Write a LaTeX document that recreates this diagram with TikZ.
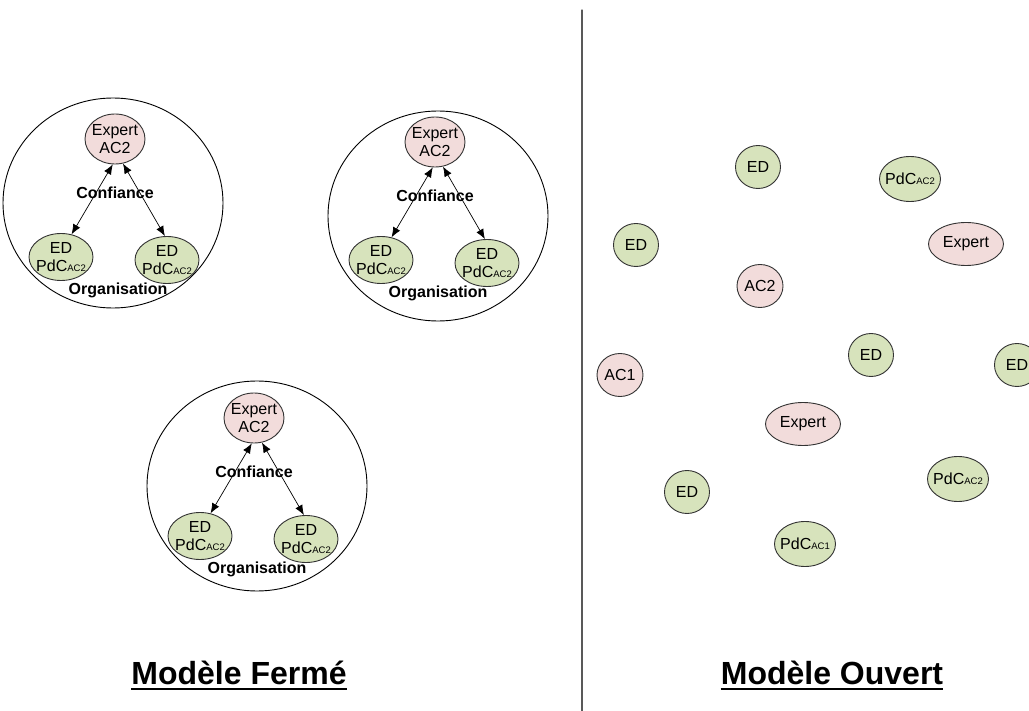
\documentclass[tikz,border=0pt]{standalone}
\usepackage{fontspec}
\setmainfont{Liberation Sans}
\usetikzlibrary{shapes.geometric,arrows.meta}
\definecolor{vertpale}{HTML}{D7E3BC}
\definecolor{rosepale}{HTML}{F2DCDB}
\definecolor{bord}{HTML}{333333}
\newcommand{\pdc}[1]{PdC{\fontsize{9.5}{9.5}\selectfont #1}}
\newcommand{\mot}[1]{\makebox[0pt]{#1}}
\begin{document}
\begin{tikzpicture}[x=1pt, y=-1pt, line join=round, line cap=round,
	bulle/.style={ellipse, draw=bord, line width=0.9pt, inner sep=0pt, align=center, font=\fontsize{16}{18}\selectfont},
	vert/.style={bulle, fill=vertpale},
	rose/.style={bulle, fill=rosepale},
	gras/.style={font=\fontsize{16}{16}\selectfont\bfseries, inner sep=0pt},
	lien/.style={{Latex[length=10pt,width=8pt]}-{Latex[length=10pt,width=8pt]}, line width=0.7pt},
	titre/.style={font=\fontsize{32}{32}\selectfont\bfseries, inner sep=0pt, anchor=base}]
	\useasboundingbox (0,0) rectangle (1029,711);
	\clip (0,0) rectangle (1029,711);
	\draw[line width=1.3pt, black!65] (582,10) -- (582,711);
	
	\foreach \k/\cx/\cy/\ox/\oy in {1/115/205/-2/-2, 2/435/208/3/8, 3/254/484/3/2} {
		\begin{scope}[shift={(\cx,\cy)}]
			\node[ellipse, draw, line width=0.9pt, minimum width=220pt, minimum height=210pt] (org\k) at (\ox,\oy) {};
			\node[rose, minimum width=60pt, minimum height=50pt] (ex\k) at (0,-66) {\mot{Expert}\\\mot{AC2}};
			\node[vert, minimum width=64pt, minimum height=47pt] (gl\k) at (-54,52) {\mot{ED}\\\mot{\pdc{AC2}}};
			\node[vert, minimum width=64pt, minimum height=47pt] (gr\k) at (52,55) {\mot{ED}\\\mot{\pdc{AC2}}};
			\node[gras] (cf\k) at (0,-12) {Confiance};
			\node[gras] (og\k) at (3,85) {Organisation};
			\draw[lien] (ex\k.-95) -- (gl\k.65);
			\draw[lien] (ex\k.-72) -- (gr\k.95);
		\end{scope}
	}
	
	\foreach \nm/\x/\y in {edA/758/167, edB/636/245, edC/871/355, edD/1017/365, edE/687/492}
		\node[vert, minimum width=45pt, minimum height=43pt] (\nm) at (\x,\y) {\mot{ED}};
	\foreach \nm/\x/\y/\ac in {pcA/910/179/AC2, pcB/958/479/AC2, pcC/805/544/AC1}
		\node[vert, minimum width=61pt, minimum height=45pt] (\nm) at (\x,\y) {\mot{\pdc{\ac}}};
	\node[rose, minimum width=46pt, minimum height=43pt] (acB) at (760,286) {\mot{AC2}};
	\node[rose, minimum width=46pt, minimum height=43pt] (acA) at (620,375) {\mot{AC1}};
	\node[rose, minimum width=75pt, minimum height=43pt] (xpA) at (966,244) {\mot{Expert}};
	\node[rose, minimum width=75pt, minimum height=43pt] (xpB) at (803,424) {\mot{Expert}};
	
	\node[titre] (tf) at (239,684) {Modèle Fermé};
	\node[titre] (to) at (832,684) {Modèle Ouvert};
	\draw[line width=2.5pt, line cap=butt] ([yshift=-5pt]tf.base west) -- ([yshift=-5pt]tf.base east);
	\draw[line width=2.5pt, line cap=butt] ([yshift=-5pt]to.base west) -- ([yshift=-5pt]to.base east);
\end{tikzpicture}
\end{document}
